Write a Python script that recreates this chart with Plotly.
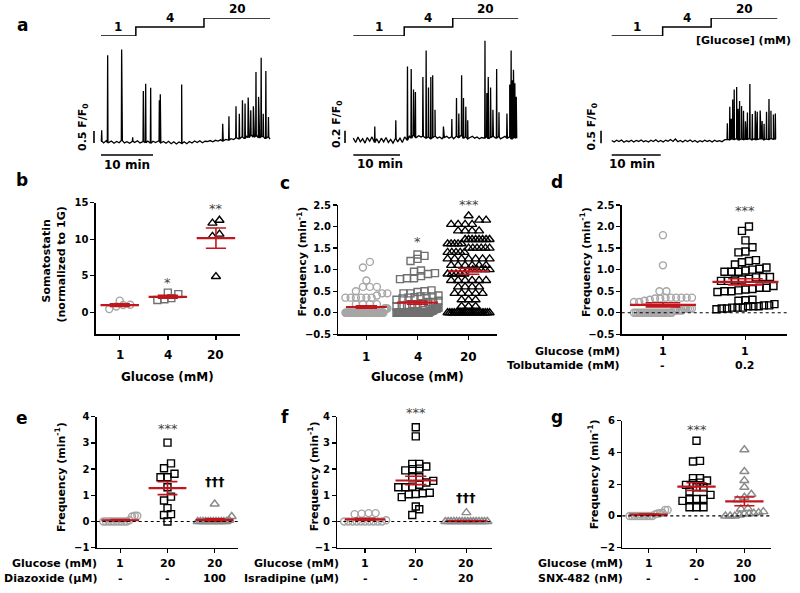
import numpy as np
import plotly.graph_objects as go

# ======================= DATA =======================
glucose_steps = ["1", "4", "20"]
scale_time_min = 10

# --- panel a, trace 1 (F/F0 vs min) ---
a1_baseline = [0.03, -0.04, 0.05, -0.02, 0.04, -0.05, 0.02, -0.03, 0.06, -0.04, 0.01, -0.05, 0.03, -0.02, 0.05, -0.04,
               0.02, -0.03, 0.04, -0.05, 0.03, -0.02, 0.04, -0.04, 0.02, -0.05, 0.03, -0.07, 0.01, -0.08, 0.0, -0.06,
               0.01, -0.07, 0.02, -0.04, 0.04, -0.02, 0.05, -0.03, 0.03, 0.02, 0.06, 0.01, 0.07, 0.04, 0.09, 0.05,
               0.11, 0.08, 0.14, 0.1, 0.17, 0.13, 0.2, 0.15, 0.24, 0.18, 0.27, 0.2, 0.25, 0.17, 0.22, 0.15, 0.2, 0.12]
a1_spike_t = [0.13, 1.28, 3.97, 4.05, 6.09, 8.14, 8.59, 9.55, 11.22, 11.4, 15.51, 23.4, 24.6, 25.96, 26.6, 27.2,
              27.7, 28.3, 28.8, 29.3, 29.8, 30.3, 30.8, 31.2, 31.7, 32.2]
a1_spike_h = [0.49, 3.61, 3.85, 3.55, 0.2, 2.13, 2.43, 2.26, 1.74, 1.99, 2.40, 0.76, 1.07, 1.49, 1.18, 1.74,
              1.6, 1.85, 1.32, 1.49, 2.92, 1.88, 3.51, 1.18, 2.96, 1.04]
a1_protocol_t = [0, 6.7, 19.8, 32.5]
a1_scale = 0.5

# --- panel a, trace 2 ---
a2_baseline = [0.03, -0.04, 0.05, -0.03, 0.02, -0.05, 0.04, -0.02, 0.05, -0.04,
               0.02, -0.05, 0.03, -0.03, 0.04, -0.04, 0.01, -0.05, 0.02, -0.03,
               0.03, -0.04, 0.05, 0.0, 0.06, 0.03, 0.08, 0.04, 0.07, 0.05,
               0.06, 0.03, 0.05, 0.02, 0.04, 0.06, 0.03, 0.05, 0.02, 0.04,
               0.06, 0.03, 0.05, 0.02, 0.06, 0.04, 0.07, 0.03, 0.05, 0.02,
               0.04, 0.06, 0.03, 0.05, 0.02, 0.04, 0.03, 0.05, 0.02, 0.04,
               0.06, 0.03, 0.05, 0.02, 0.04, 0.06, 0.03, 0.05, 0.02, 0.04, 0.03]
a2_spike_t = [4.6, 9.1, 11.6, 12.4, 12.9, 13.3, 14.9, 15.6, 16.1, 16.6, 17.0, 17.5, 19.3, 21.1, 22.1, 22.6, 23.2,
              23.6, 24.1, 24.5, 28.2, 28.6, 28.9, 29.4, 29.9, 30.7, 31.2, 32.9, 33.5, 33.8, 34.1, 34.3, 34.6, 34.9]
a2_spike_h = [0.22, 0.32, 1.19, 1.15, 0.82, 0.78, 1.02, 1.45, 0.85, 1.02, 1.05, 0.49, 0.22, 0.34, 0.68, 0.43, 1.05,
              0.68, 0.54, 0.32, 1.61, 0.76, 1.02, 0.85, 0.49, 1.15, 0.45, 0.43, 0.9, 1.45, 0.97, 1.14, 0.92, 0.70]
a2_protocol_t = [0, 10.9, 21.3, 35.3]
a2_scale = 0.2

# --- panel a, trace 3 ---
a3_baseline = [0.02, -0.04, 0.03, -0.02, 0.04, -0.05, 0.01, -0.03, 0.03, -0.04,
               0.02, -0.02, 0.04, -0.03, 0.01, -0.04, 0.03, -0.02, 0.05, -0.03,
               0.02, -0.04, 0.03, -0.01, 0.06, -0.02, 0.08, -0.03, 0.02, -0.04,
               0.03, -0.02, 0.04, -0.03, 0.02, -0.05, 0.01, -0.03, 0.03, -0.02,
               0.02, -0.04, 0.03, -0.02, 0.01, -0.03, 0.04, 0.06, 0.05, 0.08,
               0.06, 0.09, 0.05, 0.08, 0.06, 0.07, 0.09, 0.05, 0.08, 0.06,
               0.07, 0.09, 0.05, 0.08, 0.06, 0.1, 0.07, 0.08]
a3_spike_t = [23.6, 24.1, 24.4, 24.7, 25.0, 25.5, 25.8, 26.1, 26.5, 26.9, 27.3, 27.7, 28.2, 28.7, 29.3, 29.7,
              30.3, 30.7, 31.1, 31.6, 32.1, 32.5, 33.0, 33.4]
a3_spike_h = [0.72, 1.38, 0.9, 1.68, 2.08, 2.18, 1.3, 1.62, 1.41, 1.22, 0.8, 1.15, 2.31, 1.09, 1.22, 1.18,
              1.23, 0.81, 0.7, 1.18, 1.70, 1.22, 1.07, 1.11]
a3_protocol_t = [0, 10.4, 20.3, 33.8]
a3_scale = 0.5

# --- panel b: somatostatin (normalised to 1G) ---
b_categories = ["1", "4", "20"]
b_glc1 = [1.05, 0.45, 0.8, 1.6, 1.0]
b_glc4 = [2.7, 1.95, 1.8, 1.7, 2.5]
b_glc20 = [12.2, 12.6, 10.7, 10.4, 4.9]

# --- panel c: frequency vs glucose ---
c_categories = ["1", "4", "20"]
c_glc1 = [1.18, 1.05, 0.75, 0.6, 0.6, 0.6, 0.5, 0.45, 0.45, 0.4, 0.35, 0.35, 0.35, 0.35, 0.35, 0.35,
          0.2, 0.2, 0.2, 0.2, 0.1, 0.1, 0.1, 0.1, 0.1,
          0, 0, 0, 0, 0, 0, 0, 0, 0, 0, 0, 0, 0, 0, 0, 0, 0, 0, 0, 0, 0, 0, 0, 0, 0,
          0, 0, 0, 0, 0, 0, 0, 0, 0, 0, 0, 0, 0, 0, 0, 0, 0, 0, 0, 0, 0, 0, 0, 0, 0]
c_glc4 = [1.35, 1.32, 1.25, 1.2, 0.98, 0.95, 0.92, 0.9, 0.85, 0.8, 0.8, 0.78, 0.52, 0.5, 0.48, 0.45, 0.45, 0.4,
          0.38, 0.38, 0.38, 0.36, 0.35, 0.33, 0.3, 0.28, 0.25, 0.25, 0.22, 0.2, 0.2, 0.18, 0.15, 0.15, 0.12, 0.12,
          0.1, 0.1, 0.1, 0.08, 0.08, 0.05, 0.05, 0.05, 0.03, 0.03,
          0, 0, 0, 0, 0, 0, 0, 0, 0, 0, 0, 0, 0, 0, 0, 0, 0, 0, 0, 0,
          0, 0, 0, 0, 0, 0, 0, 0, 0, 0, 0, 0, 0, 0, 0, 0, 0, 0, 0, 0]
c_glc20 = [0, 0, 0, 0, 0, 0, 0, 0, 0, 0, 0, 0, 0, 0, 0, 0, 0, 0, 0, 0,
           0.15, 0.15, 0.15, 0.3, 0.3, 0.3, 0.45, 0.45, 0.45, 0.45, 0.45,
           0.6, 0.6, 0.6, 0.6, 0.75, 0.75, 0.75, 0.75, 0.75, 0.75,
           0.9, 0.9, 0.9, 0.9, 0.9, 1.0, 1.0, 1.0, 1.0, 1.0, 1.0,
           1.1, 1.1, 1.1, 1.1, 1.1, 1.1, 1.25, 1.25, 1.25, 1.25, 1.25, 1.25, 1.25,
           1.4, 1.4, 1.4, 1.4, 1.4, 1.5, 1.5, 1.5, 1.5, 1.5, 1.5, 1.6, 1.6, 1.6, 1.6, 1.6,
           1.7, 1.7, 1.7, 1.7, 1.7, 1.7, 1.7, 1.7, 1.9, 1.9, 1.9, 1.9,
           2.05, 2.05, 2.05, 2.05, 2.15, 2.15, 2.25]

# --- panel d: tolbutamide ---
d_ctrl = [1.8, 1.1, 0.5, 0.5, 0.35, 0.35, 0.35, 0.33, 0.33, 0.35, 0.35, 0.35, 0.3, 0.28, 0.25, 0.25,
          0.1, 0.1, 0.1, 0.1, 0.1, 0.05, 0.05, 0.05, 0.05, 0.05,
          0, 0, 0, 0, 0, 0, 0, 0, 0, 0, 0, 0, 0, 0, 0, 0, 0, 0, 0, 0]
d_tolb = [2.0, 1.9, 1.68, 1.52, 1.4, 1.42, 1.2, 1.22, 1.12, 1.17, 1.02, 1.0, 0.95, 0.95, 0.95, 0.98, 1.05,
          0.83, 0.83, 0.77, 0.74, 0.74, 0.75, 0.79, 0.82, 0.62, 0.58, 0.55, 0.52, 0.48, 0.5, 0.5, 0.54, 0.58,
          0.3, 0.29, 0.28, 0.2, 0.17, 0.15, 0.12, 0.12, 0.15, 0.17, 0.1, 0.1, 0.08, 0.12, 0.15]
d_row1 = ["1", "1"]
d_row2 = ["-", "0.2"]

# --- panel e: diazoxide ---
e_glc1 = [0.22, 0.19, 0.22, 0.05, 0, 0, 0, 0, 0, 0, 0, 0, 0, 0]
e_glc20 = [2.03, 3.01, 2.22, 1.69, 1.82, 1.69, 1.31, 0.95, 0.8, 0.51, 0.28, 0.25, 0.0]
e_diaz = [0.67, 0.19, 0.05, 0, 0, 0, 0, 0, 0, 0, 0, 0, 0, 0, 0]
e_row1 = ["1", "20", "20"]
e_row2 = ["-", "-", "100"]

# --- panel f: isradipine ---
f_glc1 = [0.32, 0.3, 0.32, 0.28, 0.05, 0, 0, 0, 0, 0, 0, 0, 0, 0, 0]
f_glc20 = [3.6, 3.25, 2.2, 2.1, 2.0, 1.95, 2.02, 2.2, 1.69, 1.49, 1.4, 1.55, 1.69, 1.31, 1.31, 1.33,
           1.08, 1.04, 0.93, 1.05, 1.1, 0.57, 0.47, 0.25]
f_isr = [0.34, 0, 0, 0, 0, 0, 0, 0, 0, 0, 0, 0, 0, 0, 0, 0, 0]
f_row1 = ["1", "20", "20"]
f_row2 = ["-", "-", "20"]

# --- panel g: SNX-482 ---
g_glc1 = [0.38, 0.38, 0.2, 0.17, 0.15, 0.1, 0, 0, 0, 0, 0, 0, 0, 0, 0, 0]
g_glc20 = [4.74, 3.47, 3.43, 2.38, 2.38, 2.23, 2.1, 2.06, 1.96, 1.81, 1.81, 1.54, 1.33, 1.05, 1.07, 1.07,
           0.95, 0.55, 0.55, 0.55]
g_snx = [4.17, 2.8, 2.23, 1.81, 1.37, 1.18, 1.01, 0.48, 0.44, 0.27, 0.21, 0.13, 0.13, 0.17, 0.06, 0, 0, 0]
g_row1 = ["1", "20", "20"]
g_row2 = ["-", "-", "100"]

# ======================= STYLE / LAYOUT =======================
W, H = 800, 593
FONT = "DejaVu Sans"
RED = "#c0161c"
LGRAY = "#a6a6a6"
MGRAY = "#707070"
TGRAY = "#8a8a8a"


def fx(p):
    return p / W


def fy(p):
    return 1 - p / H


fig = go.Figure()
layout = dict(width=W, height=H, margin=dict(l=0, r=0, t=0, b=0, pad=0), template="none",
              paper_bgcolor="white", plot_bgcolor="rgba(0,0,0,0)", showlegend=False, hovermode=False)
annotations = []
shapes = []


def akey(letter, n):
    return f"{letter}axis" if n == 1 else f"{letter}axis{n}"


def aref(letter, n):
    return letter if n == 1 else f"{letter}{n}"


def ann(text, x, y, size=11, xanchor="center", yanchor="middle", angle=0, bold=True, color="black",
        xref="paper", yref="paper", yshift=0):
    annotations.append(dict(
        text=f"<b>{text}</b>" if bold else text,
        x=fx(x) if xref == "paper" else x, y=fy(y) if yref == "paper" else y,
        xref=xref, yref=yref, showarrow=False, xanchor=xanchor, yanchor=yanchor,
        textangle=angle, yshift=yshift, font=dict(family=FONT, size=size, color=color)))


# ---------- panel a: calcium traces ----------
def build_trace(baseline, spike_t, spike_h, dt=0.5):
    pts = [(i * dt, b) for i, b in enumerate(baseline)]
    for t, h in zip(spike_t, spike_h):
        b = baseline[min(len(baseline) - 1, int(round(t / dt)))]
        pts += [(t - 0.06, b), (t, h), (t + 0.06, b)]
    pts.sort()
    return [p[0] for p in pts], [p[1] for p in pts]


trace_panels = [
    dict(n=1, xd=(90, 272), xr=(-2.115, 32.88), yr=(-0.75, 5.5), base=a1_baseline, st=a1_spike_t,
         sh=a1_spike_h, prot=a1_protocol_t, scale=a1_scale, scale_txt="0.5", bar_x=-1.35, bar_y0=-0.04,
         tbar_y=-0.54, lbl=(83, 127), tlbl=(127, 165), pn=10),
    dict(n=2, xd=(340, 520), xr=(-2.85, 35.7), yr=(-0.324, 2.107), base=a2_baseline, st=a2_spike_t,
         sh=a2_spike_h, prot=a2_protocol_t, scale=a2_scale, scale_txt="0.2", bar_x=-1.78, bar_y0=-0.05,
         tbar_y=-0.243, lbl=(337, 124), tlbl=(380, 164), pn=11),
    dict(n=3, xd=(595, 780), xr=(-3.41, 34.35), yr=(-0.77, 5.30), base=a3_baseline, st=a3_spike_t,
         sh=a3_spike_h, prot=a3_protocol_t, scale=a3_scale, scale_txt="0.5", bar_x=-2.18, bar_y0=-0.09,
         tbar_y=-0.567, lbl=(591.5, 127), tlbl=(632, 164), pn=12),
]

for p in trace_panels:
    n = p["n"]
    layout[akey("x", n)] = dict(domain=[fx(p["xd"][0]), fx(p["xd"][1])], range=list(p["xr"]),
                                visible=False, anchor=aref("y", n), fixedrange=True, automargin=False)
    layout[akey("y", n)] = dict(domain=[fy(160), fy(10)], range=list(p["yr"]), visible=False,
                                anchor=aref("x", n), fixedrange=True, automargin=False)
    layout[akey("y", p["pn"])] = dict(domain=[fy(36), fy(18)], range=[0, 2], visible=False,
                                      anchor=aref("x", n), fixedrange=True, automargin=False)
    tx, ty = build_trace(p["base"], p["st"], p["sh"])
    fig.add_trace(go.Scatter(x=tx, y=ty, mode="lines", line=dict(color="black", width=1.3),
                             xaxis=aref("x", n), yaxis=aref("y", n), hoverinfo="skip"))
    pt = p["prot"]
    px_, py_ = [], []
    for i in range(len(glucose_steps)):
        px_ += [pt[i], pt[i + 1]]
        py_ += [i, i]
    fig.add_trace(go.Scatter(x=px_, y=py_, mode="lines", line=dict(color="black", width=1.5),
                             xaxis=aref("x", n), yaxis=aref("y", p["pn"]), hoverinfo="skip"))
    for i, lab in enumerate(glucose_steps):
        ann(lab, (pt[i] + pt[i + 1]) / 2, i, size=12, xref=aref("x", n), yref=aref("y", p["pn"]),
            yanchor="bottom", yshift=0)
    shapes.append(dict(type="line", xref=aref("x", n), yref=aref("y", n), x0=p["bar_x"], x1=p["bar_x"],
                       y0=p["bar_y0"], y1=p["bar_y0"] + p["scale"], line=dict(color="black", width=1.6)))
    shapes.append(dict(type="line", xref=aref("x", n), yref=aref("y", n), x0=0, x1=scale_time_min,
                       y0=p["tbar_y"], y1=p["tbar_y"], line=dict(color="black", width=1.6)))
    ann(f"{p['scale_txt']} F/F<sub>0</sub>", p["lbl"][0], p["lbl"][1], size=11, angle=-90)
    ann(f"{scale_time_min} min", p["tlbl"][0], p["tlbl"][1], size=12)

ann("[Glucose] (mM)", 743, 40, size=11)


# ---------- scatter dot-plot panels ----------
def swarm_x(values, center, xppu, yppu, diam=7.0, maxhalf=20.0):
    v = np.asarray(values, dtype=float)
    order = np.argsort(v, kind="stable")
    groups, cur = [], []
    for idx in order:
        if cur and (v[idx] - v[cur[0]]) * yppu > 0.9 * diam:
            groups.append(cur)
            cur = []
        cur.append(idx)
    if cur:
        groups.append(cur)
    xs = np.empty(len(v))
    for g in groups:
        m = len(g)
        step = diam
        if m > 1 and step * (m - 1) > 2 * maxhalf:
            step = 2 * maxhalf / (m - 1)
        for k, idx in enumerate(g):
            xs[idx] = center + (k - (m - 1) / 2) * step / xppu
    return xs


dot_panels = [
    dict(n=4, xd=(95.7, 240), yd=(202.7, 334.3), xr=(-0.5, 2.5), yr=(-3, 15), yt=[0, 5, 10, 15], fmt="",
         maxhalf=16, zero=False,
         groups=[(b_glc1, "circle-open", LGRAY, 7), (b_glc4, "square-open", MGRAY, 7),
                 (b_glc20, "triangle-up-open", "black", 8)]),
    dict(n=5, xd=(338.3, 496.7), yd=(205, 334.3), xr=(-0.55, 2.55), yr=(-0.5, 2.5),
         yt=[-0.5, 0, 0.5, 1, 1.5, 2, 2.5], fmt=".1f", maxhalf=21, zero=False,
         groups=[(c_glc1, "circle-open", LGRAY, 7), (c_glc4, "square-open", MGRAY, 7),
                 (c_glc20, "triangle-up-open", "black", 8)]),
    dict(n=6, xd=(621.7, 786.7), yd=(205, 334.3), xr=(-0.5, 1.5), yr=(-0.5, 2.5),
         yt=[-0.5, 0, 0.5, 1, 1.5, 2, 2.5], fmt=".1f", maxhalf=29, zero=True,
         groups=[(d_ctrl, "circle-open", LGRAY, 7), (d_tolb, "square-open", "black", 7)]),
    dict(n=7, xd=(96.7, 238.3), yd=(416.7, 547.7), xr=(-0.5, 2.5), yr=(-1, 4), yt=[-1, 0, 1, 2, 3, 4],
         fmt="", maxhalf=17, zero=True,
         groups=[(e_glc1, "circle-open", LGRAY, 7), (e_glc20, "square-open", "black", 7),
                 (e_diaz, "triangle-up-open", TGRAY, 8)]),
    dict(n=8, xd=(337.3, 491.7), yd=(416.7, 547.7), xr=(-0.55, 2.5), yr=(-1, 4), yt=[-1, 0, 1, 2, 3, 4],
         fmt="", maxhalf=21, zero=True,
         groups=[(f_glc1, "circle-open", LGRAY, 7), (f_glc20, "square-open", "black", 7),
                 (f_isr, "triangle-up-open", TGRAY, 8)]),
    dict(n=9, xd=(622.3, 770.7), yd=(420.7, 547.7), xr=(-0.55, 2.55), yr=(-2, 6), yt=[-2, 0, 2, 4, 6],
         fmt="", maxhalf=19, zero=True,
         groups=[(g_glc1, "circle-open", LGRAY, 7), (g_glc20, "square-open", "black", 7),
                 (g_snx, "triangle-up-open", TGRAY, 8)]),
]

for p in dot_panels:
    n = p["n"]
    ncat = len(p["groups"])
    layout[akey("x", n)] = dict(
        domain=[fx(p["xd"][0]), fx(p["xd"][1])], range=list(p["xr"]), anchor=aref("y", n),
        showline=True, linecolor="black", linewidth=1.3, ticks="outside", ticklen=4, tickwidth=1.3,
        tickcolor="black", tickvals=list(range(ncat)), showticklabels=False, showgrid=False,
        zeroline=False, fixedrange=True, automargin=False)
    yax = dict(
        domain=[fy(p["yd"][1]), fy(p["yd"][0])], range=list(p["yr"]), anchor=aref("x", n),
        showline=True, linecolor="black", linewidth=1.3, ticks="outside", ticklen=4, tickwidth=1.3,
        tickcolor="black", tickvals=p["yt"], showgrid=False, zeroline=False, fixedrange=True,
        automargin=False, tickfont=dict(family=FONT, size=10, color="black", weight="bold"))
    if p["fmt"]:
        yax["tickformat"] = p["fmt"]
    layout[akey("y", n)] = yax
    xppu = (p["xd"][1] - p["xd"][0]) / (p["xr"][1] - p["xr"][0])
    yppu = (p["yd"][1] - p["yd"][0]) / (p["yr"][1] - p["yr"][0])
    if p["zero"]:
        shapes.append(dict(type="line", xref=f"{aref('x', n)} domain", yref=aref("y", n), x0=0, x1=1,
                           y0=0, y1=0, line=dict(color="black", width=1.2, dash="dot")))
    for ci, (vals, sym, col, sz) in enumerate(p["groups"]):
        xs = swarm_x(vals, ci, xppu, yppu, diam=7.0, maxhalf=p["maxhalf"])
        fig.add_trace(go.Scatter(
            x=xs, y=vals, mode="markers", xaxis=aref("x", n), yaxis=aref("y", n), cliponaxis=False,
            marker=dict(symbol=sym, size=sz, color=col, line=dict(color=col, width=1.4)),
            hoverinfo="skip"))
    for ci, (vals, sym, col, sz) in enumerate(p["groups"]):
        v = np.asarray(vals, dtype=float)
        m = v.mean()
        s = v.std(ddof=1) / np.sqrt(len(v))
        fig.add_trace(go.Scatter(
            x=[ci - 0.21, ci + 0.21, None, ci, ci, None, ci - 0.21, ci + 0.21],
            y=[m + s, m + s, None, m - s, m + s, None, m - s, m - s],
            mode="lines", line=dict(color=RED, width=1.6), xaxis=aref("x", n), yaxis=aref("y", n),
            cliponaxis=False, hoverinfo="skip"))
        fig.add_trace(go.Scatter(
            x=[ci - 0.4, ci + 0.4], y=[m, m], mode="lines", line=dict(color=RED, width=2.2),
            xaxis=aref("x", n), yaxis=aref("y", n), cliponaxis=False, hoverinfo="skip"))

# ---------- text: panel letters ----------
for letter, x, y in [("a", 22, 25), ("b", 22, 180), ("c", 285, 183), ("d", 557, 182),
                     ("e", 22, 418), ("f", 285, 417), ("g", 557, 417)]:
    ann(letter, x, y, size=17)

# ---------- y titles ----------
ann("Somatostatin", 45.5, 261, size=11, angle=-90)
ann("(normalized to 1G)", 61.5, 265, size=11, angle=-90)
freq = "Frequency (min<sup>-1</sup>)"
ann(freq, 301.5, 262, size=11, angle=-90)
ann(freq, 585, 262, size=11, angle=-90)
ann(freq, 60, 477, size=11, angle=-90)
ann(freq, 313.3, 476, size=11, angle=-90)
ann(freq, 593.3, 474, size=11, angle=-90)

# ---------- x category labels ----------
for ci, lab in enumerate(b_categories):
    ann(lab, ci, 355, size=12, xref="x4")
ann("Glucose (mM)", 167, 377, size=12)
for ci, lab in enumerate(c_categories):
    ann(lab, ci, 357, size=12, xref="x5")
ann("Glucose (mM)", 417, 377, size=12)

row_panels = [
    (6, d_row1, d_row2, "Tolbutamide (mM)", 621.7, 351.7, 365),
    (7, e_row1, e_row2, "Diazoxide (\u03bcM)", 99, 563.3, 578.3),
    (8, f_row1, f_row2, "Isradipine (\u03bcM)", 341, 563.3, 578.3),
    (9, g_row1, g_row2, "SNX-482 (nM)", 625, 563.3, 578.3),
]
for n, r1, r2, name, hx, y1, y2 in row_panels:
    ann("Glucose (mM)", hx, y1, size=11, xanchor="right")
    ann(name, hx, y2, size=11, xanchor="right")
    for ci, lab in enumerate(r1):
        ann(lab, ci, y1, size=11, xref=f"x{n}")
    for ci, lab in enumerate(r2):
        ann(lab, ci, y2, size=11, xref=f"x{n}")

# ---------- significance marks ----------
for txt, n, ci, y in [("*", 4, 1, 282), ("**", 4, 2, 208), ("*", 5, 1, 242), ("***", 5, 2, 205),
                      ("***", 6, 1, 211), ("***", 7, 1, 428), ("***", 8, 1, 412), ("***", 9, 1, 429)]:
    ann(txt, ci, y, size=13, xref=f"x{n}", bold=False, color="#444444")
for n, ci, y in [(7, 2, 481), (8, 2, 497)]:
    ann("\u2020\u2020\u2020", ci, y, size=13, xref=f"x{n}")

layout["annotations"] = annotations
layout["shapes"] = shapes
fig.update_layout(**layout)
fig.write_html("out.html", config={"displayModeBar": False, "staticPlot": True},
               post_script="document.body.style.margin='0px';document.body.style.overflow='hidden';")
